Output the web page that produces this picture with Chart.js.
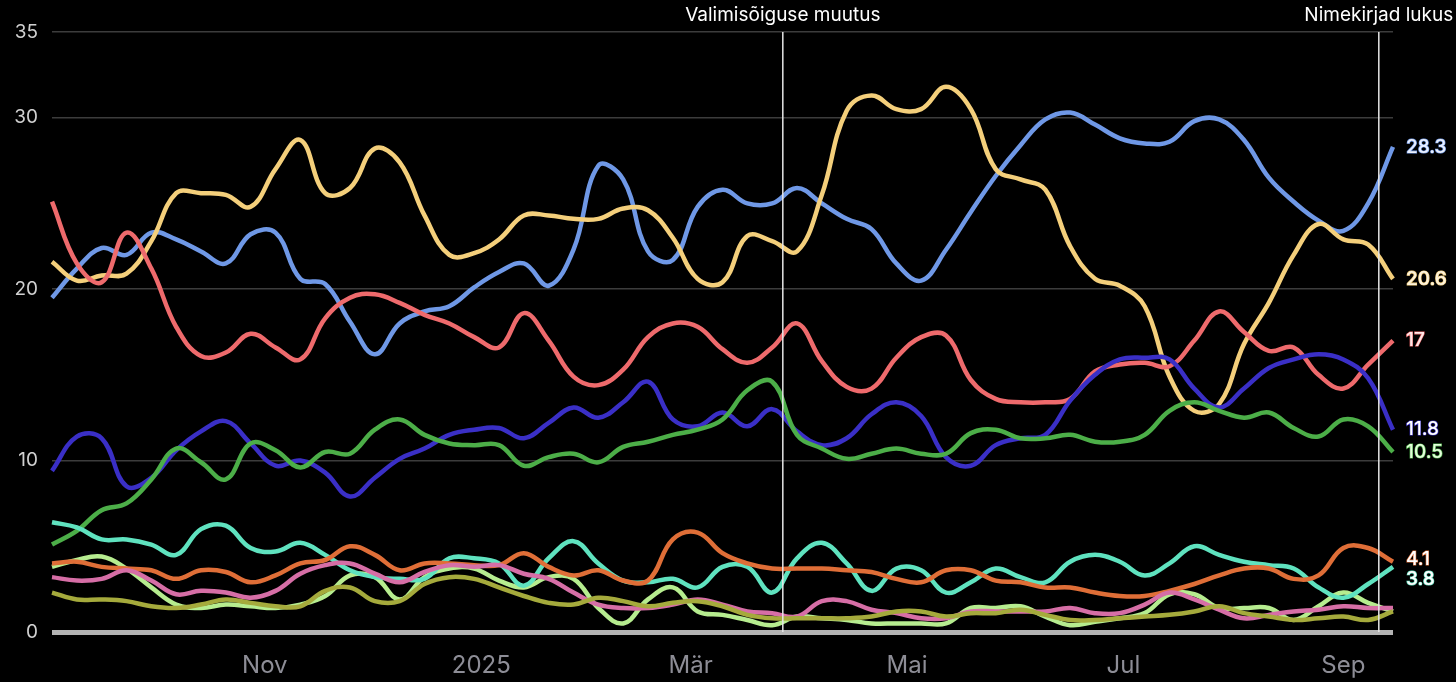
<!DOCTYPE html>
<html>
<head>
<meta charset="utf-8">
<script src="https://cdn.jsdelivr.net/npm/chart.js@4.4.1/dist/chart.umd.min.js"></script>
<style>
  html, body { margin: 0; padding: 0; background: #000; }
  #wrap { width: 1456px; height: 682px; }
</style>
</head>
<body>
<div id="wrap"><canvas id="myChart" width="1456" height="682"></canvas></div>
<script>
// weekly points, one per date
const dates = [
  '2024-09-02','2024-09-09','2024-09-16','2024-09-23','2024-09-30','2024-10-07','2024-10-14','2024-10-21','2024-10-28',
  '2024-11-04','2024-11-11','2024-11-18','2024-11-25','2024-12-02','2024-12-09','2024-12-16','2024-12-23','2024-12-30',
  '2025-01-06','2025-01-13','2025-01-20','2025-01-27','2025-02-03','2025-02-10','2025-02-17','2025-02-24',
  '2025-03-03','2025-03-10','2025-03-17','2025-03-24','2025-03-31','2025-04-07','2025-04-14','2025-04-21','2025-04-28',
  '2025-05-05','2025-05-12','2025-05-19','2025-05-26','2025-06-02','2025-06-09','2025-06-16','2025-06-23','2025-06-30',
  '2025-07-07','2025-07-14','2025-07-21','2025-07-28','2025-08-04','2025-08-11','2025-08-18','2025-08-25',
  '2025-09-01','2025-09-08','2025-09-15'
];

const blue = [19.5,21.2,22.4,22.0,23.3,22.9,22.2,21.5,23.2,23.3,20.6,20.3,18.1,16.2,18.0,18.7,19.0,20.1,21.0,21.5,20.2,22.3,27.2,26.4,22.2,21.7,24.8,25.8,25.0,25.0,25.9,25.0,24.1,23.5,21.5,20.5,22.3,24.5,26.6,28.4,29.9,30.3,29.6,28.8,28.5,28.6,29.8,29.9,28.7,26.5,25.1,24.0,23.4,25.0,28.3];
const yellow = [21.6,20.5,20.8,20.9,22.8,25.6,25.6,25.5,24.8,27.0,28.7,25.6,25.9,28.2,27.4,24.3,22.0,22.1,22.9,24.3,24.3,24.1,24.1,24.7,24.6,23.0,20.6,20.4,23.1,22.8,22.2,25.5,30.4,31.3,30.5,30.5,31.8,30.5,27.0,26.4,25.8,22.5,20.6,20.2,19.0,14.9,12.9,13.3,16.8,19.2,22.0,23.8,22.9,22.6,20.6];
const red = [25.1,21.5,20.4,23.3,21.2,17.8,16.1,16.3,17.4,16.6,15.9,18.3,19.5,19.7,19.2,18.5,18.0,17.2,16.6,18.6,17.0,14.9,14.4,15.3,17.2,18.0,17.8,16.5,15.7,16.6,18.0,15.8,14.3,14.2,16.0,17.2,17.3,14.7,13.6,13.4,13.4,13.6,15.2,15.6,15.7,15.5,17.0,18.7,17.5,16.4,16.6,15.0,14.2,15.6,17.0];
const indigo = [9.4,11.4,11.3,8.5,9.0,10.6,11.7,12.3,11.0,9.7,10.0,9.3,7.9,9.0,10.1,10.7,11.5,11.8,11.9,11.3,12.2,13.1,12.5,13.4,14.6,12.4,12.0,12.8,12.0,13.0,11.7,10.9,11.3,12.7,13.4,12.6,10.2,9.7,10.9,11.3,11.5,13.5,15.0,15.9,16.0,15.9,14.2,13.1,14.2,15.4,15.9,16.2,15.9,14.8,11.8];
const green = [5.1,5.9,7.1,7.5,8.9,10.7,9.9,8.9,11.0,10.6,9.6,10.5,10.4,11.8,12.4,11.5,11.0,10.9,10.9,9.7,10.2,10.4,9.9,10.8,11.1,11.5,11.8,12.4,14.1,14.6,11.5,10.7,10.1,10.4,10.7,10.4,10.4,11.6,11.8,11.3,11.3,11.5,11.1,11.1,11.5,12.9,13.4,12.9,12.5,12.8,11.9,11.4,12.4,12.0,10.5];
const teal = [6.4,6.1,5.4,5.4,5.1,4.5,6.0,6.2,4.9,4.7,5.2,4.5,3.6,3.2,3.1,3.1,4.3,4.3,4.0,2.7,4.3,5.3,4.0,3.0,2.9,3.1,2.6,3.8,3.8,2.3,4.3,5.2,4.0,2.4,3.7,3.6,2.3,2.9,3.7,3.2,2.9,4.1,4.5,4.1,3.3,4.0,5.0,4.5,4.1,3.9,3.7,2.6,2.0,2.8,3.8];
const orange = [4.0,4.1,3.8,3.7,3.6,3.1,3.6,3.5,2.9,3.3,4.0,4.2,5.0,4.5,3.6,4.0,4.0,3.9,3.9,4.6,3.8,3.3,3.6,3.0,3.0,5.4,5.8,4.6,4.0,3.7,3.7,3.7,3.6,3.5,3.1,2.9,3.6,3.6,3.0,2.9,2.6,2.6,2.3,2.1,2.1,2.4,2.8,3.3,3.7,3.7,3.1,3.3,4.9,4.9,4.1];
const pink = [3.2,3.0,3.1,3.6,3.0,2.2,2.4,2.3,2.0,2.4,3.4,3.9,4.0,3.4,2.9,3.5,3.9,3.8,3.9,3.4,3.1,2.3,1.6,1.4,1.4,1.6,1.9,1.6,1.2,1.1,0.9,1.8,1.8,1.3,1.1,0.8,0.8,1.2,1.2,1.2,1.2,1.4,1.1,1.1,1.6,2.3,1.9,1.3,0.8,1.0,1.2,1.3,1.5,1.4,1.4];
const olive = [2.3,1.9,1.9,1.8,1.5,1.4,1.6,1.9,1.7,1.5,1.5,2.4,2.6,1.8,1.8,2.8,3.2,3.1,2.6,2.1,1.7,1.6,2.0,1.8,1.5,1.7,1.8,1.5,1.0,0.8,0.8,0.8,0.8,0.9,1.2,1.2,0.9,1.1,1.1,1.3,1.0,0.7,0.7,0.8,0.9,1.0,1.2,1.5,1.1,0.9,0.7,0.8,0.9,0.7,1.2];
const lightgreen = [3.8,4.2,4.4,3.7,2.6,1.6,1.4,1.6,1.5,1.4,1.6,2.1,3.3,3.2,1.9,3.2,3.7,3.7,3.0,2.6,3.2,3.1,1.4,0.5,1.9,2.6,1.2,1.0,0.7,0.4,0.9,0.8,0.7,0.5,0.5,0.5,0.5,1.4,1.4,1.5,0.9,0.4,0.6,0.8,1.1,2.2,2.2,1.4,1.4,1.4,0.7,1.5,2.3,1.7,1.2];

const yTicks = [0, 10, 20, 30, 35];
const monthTicks = ['2024-11-01','2025-01-01','2025-03-01','2025-05-01','2025-07-01','2025-09-01'];
const monthLabels = ['Nov','2025','Mär','Mai','Jul','Sep'];
const events = [
  { date: '2025-03-27', text: 'Valimisõiguse muutus' },
  { date: '2025-09-11', text: 'Nimekirjad lukus' }
];

const xs = dates.map(d => Date.parse(d));

function makeSeries(values, color, endLabel, labelFill, labelShift) {
  return {
    data: values.map((v, i) => ({ x: xs[i], y: v })),
    borderColor: color,
    borderWidth: 4.5,
    pointRadius: 0,
    tension: 0.4,
    fill: false,
    clip: false,
    endLabel: endLabel,
    labelFill: labelFill,
    labelShift: labelShift || 0
  };
}

const datasets = [
  makeSeries(olive, '#a5aa3c'),
  makeSeries(pink, '#d66ea6'),
  makeSeries(orange, '#df6e37', '4.1', '#ffffff', -2),
  makeSeries(teal, '#5fe2bf', '3.8', '#ffffff', 12),
  makeSeries(lightgreen, '#b6ec8f'),
  makeSeries(green, '#4cae48', '10.5', '#e2ffd9', 0),
  makeSeries(indigo, '#3a2fc6', '11.8', '#ffffff', 0),
  makeSeries(red, '#ee6a6c', '17', '#ffe8e8', 0),
  makeSeries(yellow, '#f4cf7b', '20.6', '#fff4dc', 0),
  makeSeries(blue, '#6f98e6', '28.3', '#eaf0ff', 0)
];

const overlay = {
  id: 'overlay',
  afterDatasetsDraw(chart) {
    const ctx = chart.ctx;
    const xScale = chart.scales.x, yScale = chart.scales.y;
    const area = chart.chartArea;
    ctx.save();
    // event lines
    events.forEach(ev => {
      const px = xScale.getPixelForValue(Date.parse(ev.date));
      ctx.strokeStyle = '#e6e6e6';
      ctx.lineWidth = 1.5;
      ctx.beginPath();
      ctx.moveTo(px, area.top);
      ctx.lineTo(px, area.bottom);
      ctx.stroke();
      ctx.fillStyle = '#ffffff';
      ctx.font = '19px Inter, "Open Sans", sans-serif';
      ctx.textAlign = 'center';
      ctx.textBaseline = 'middle';
      ctx.fillText(ev.text, px, 15);
    });
    // end labels
    chart.data.datasets.forEach(ds => {
      if (!ds.endLabel) return;
      const last = ds.data[ds.data.length - 1];
      const py = yScale.getPixelForValue(last.y) + ds.labelShift;
      ctx.font = '500 19px Inter, "Open Sans", sans-serif';
      ctx.textAlign = 'left';
      ctx.textBaseline = 'middle';
      ctx.lineWidth = 1.2;
      ctx.strokeStyle = ds.borderColor;
      ctx.strokeText(ds.endLabel, 1406, py);
      ctx.fillStyle = ds.labelFill;
      ctx.fillText(ds.endLabel, 1406, py);
    });
    ctx.restore();
  }
};

const ctx_live = document.getElementById('myChart');
const myChart = new Chart(ctx_live, {
  type: 'line',
  data: { datasets: datasets },
  options: {
    responsive: false,
    animation: false,
    layout: { padding: { top: 32, right: 63, left: 0, bottom: 0 } },
    plugins: {
      legend: { display: false },
      tooltip: { enabled: false }
    },
    scales: {
      x: {
        type: 'linear',
        min: xs[0],
        max: xs[xs.length - 1],
        border: { display: false },
        grid: { display: false },
        afterBuildTicks: scale => {
          scale.ticks = monthTicks.map(d => ({ value: Date.parse(d) }));
        },
        afterFit: scale => { scale.height = 50; },
        ticks: {
          color: '#8d8d96',
          font: { size: 24, family: 'Inter, "Open Sans", sans-serif' },
          padding: 11,
          maxRotation: 0,
          autoSkip: false,
          callback: (value) => {
            const i = monthTicks.findIndex(d => Date.parse(d) === value);
            return i >= 0 ? monthLabels[i] : '';
          }
        }
      },
      y: {
        min: 0,
        max: 35,
        border: { display: false },
        afterBuildTicks: scale => {
          scale.ticks = yTicks.map(v => ({ value: v }));
        },
        afterFit: scale => { scale.width = 52; },
        grid: {
          drawTicks: false,
          color: c => c.tick.value === 0 ? '#b4b4b4' : '#3c3c3c',
          lineWidth: c => c.tick.value === 0 ? 5 : 1.5
        },
        ticks: {
          color: '#d0d0d0',
          font: { size: 19, family: 'Inter, "Open Sans", sans-serif' },
          padding: 14
        }
      }
    }
  },
  plugins: [overlay]
});
</script>
</body>
</html>
